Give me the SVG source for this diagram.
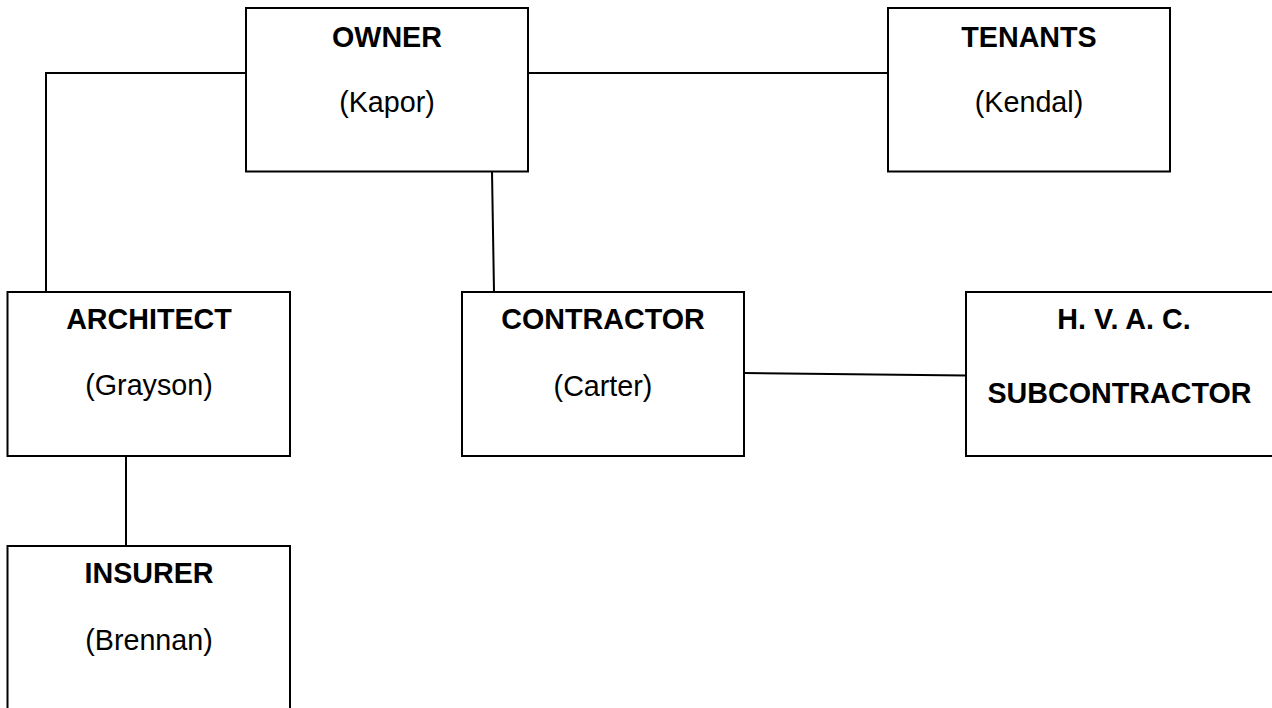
<svg xmlns="http://www.w3.org/2000/svg" width="1272" height="708" viewBox="0 0 1272 708">
<style>
.box{fill:#fff;stroke:#000;stroke-width:2}
.conn{fill:none;stroke:#000;stroke-width:2}
.t{font-family:"Liberation Sans",Arial,sans-serif;font-size:28.7px;fill:#000;text-anchor:middle}
.b{font-weight:bold}
</style>
<rect width="1272" height="708" fill="#fff"/>
<g id="connectors">
<polyline class="conn" points="246,73 46,73 46,292"/>
<line class="conn" x1="528" y1="73" x2="888" y2="73"/>
<line class="conn" x1="492" y1="171.5" x2="494" y2="292"/>
<line class="conn" x1="126" y1="456" x2="126" y2="546"/>
<line class="conn" x1="744" y1="373" x2="966" y2="375.5"/>
</g>
<g id="owner">
<rect class="box" x="246" y="8" width="282" height="163.5"/>
<text class="t b" x="387" y="47">OWNER</text>
<text class="t" x="387" y="111.5">(Kapor)</text>
</g>
<g id="tenants">
<rect class="box" x="888" y="8" width="282" height="163.5"/>
<text class="t b" x="1029" y="47">TENANTS</text>
<text class="t" x="1029" y="111.5">(Kendal)</text>
</g>
<g id="architect">
<rect class="box" x="7.5" y="292" width="282.5" height="164"/>
<text class="t b" x="149" y="329.3">ARCHITECT</text>
<text class="t" x="149" y="395">(Grayson)</text>
</g>
<g id="insurer">
<rect class="box" x="7.5" y="546" width="282.5" height="180"/>
<text class="t b" x="149" y="583.3">INSURER</text>
<text class="t" x="149" y="649.5">(Brennan)</text>
</g>
<g id="contractor">
<rect class="box" x="462" y="292" width="282" height="164"/>
<text class="t b" x="603" y="329.3">CONTRACTOR</text>
<text class="t" x="603" y="395.5">(Carter)</text>
</g>
<g id="hvac">
<rect class="box" x="966" y="292" width="320" height="164"/>
<text class="t b" x="1124" y="329.3">H. V. A. C.</text>
<text class="t b" x="1119.5" y="403">SUBCONTRACTOR</text>
</g>
</svg>
